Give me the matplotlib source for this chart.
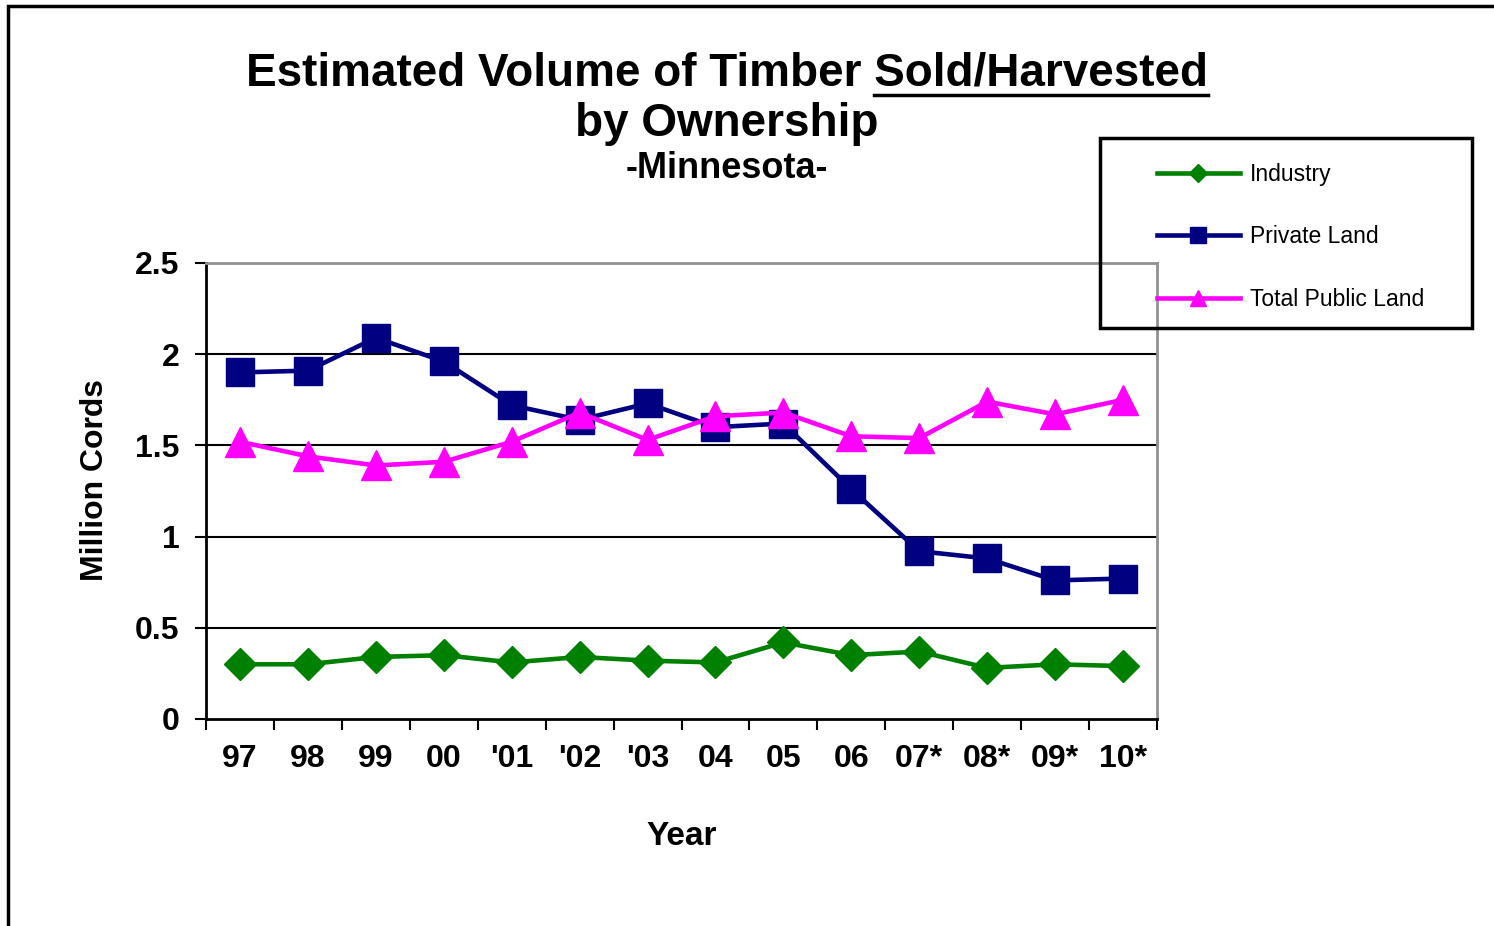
import matplotlib.pyplot as plt
from matplotlib.patches import Rectangle
from matplotlib.lines import Line2D

years = ["97", "98", "99", "00", "'01", "'02", "'03", "04", "05", "06", "07*", "08*", "09*", "10*"]
industry = [0.30, 0.30, 0.34, 0.35, 0.31, 0.34, 0.32, 0.31, 0.42, 0.35, 0.37, 0.28, 0.30, 0.29]
private_land = [1.90, 1.91, 2.09, 1.96, 1.72, 1.64, 1.73, 1.60, 1.62, 1.26, 0.92, 0.88, 0.76, 0.77]
public_land = [1.52, 1.44, 1.39, 1.41, 1.52, 1.68, 1.53, 1.66, 1.68, 1.55, 1.54, 1.74, 1.67, 1.75]
yticks = [0, 0.5, 1, 1.5, 2, 2.5]
ytick_labels = ["0", "0.5", "1", "1.5", "2", "2.5"]

plt.rcParams['font.family'] = ['Liberation Sans', 'DejaVu Sans']

W, H = 1494, 926
fig = plt.figure(figsize=(W / 100, H / 100), dpi=100)
ax = fig.add_axes([206 / W, 1 - 719 / H, (1157 - 206) / W, (719 - 263) / H])

x = list(range(len(years)))
ax.plot(x, industry, '-D', color='#008000', lw=3.3, markersize=16, label='Industry', zorder=3)
ax.plot(x, private_land, '-s', color='#000080', lw=3.3, markersize=20, label='Private Land', zorder=3)
ax.plot(x, public_land, '-^', color='#FF00FF', lw=3.3, markersize=21, label='Total Public Land', zorder=3)

for v in yticks[1:-1]:
    ax.axhline(v, color='black', lw=1.5, zorder=1)

ax.set_xlim(-0.5, len(years) - 0.5)
ax.set_ylim(0, 2.5)
ax.set_yticks(yticks)
ax.set_yticklabels(ytick_labels, fontsize=23, fontweight='bold')
ax.tick_params(axis='y', direction='out', length=8, width=1.5, pad=11)

ax.set_xticks([i - 0.5 for i in range(len(years) + 1)])
ax.set_xticklabels([])
ax.set_xticks(x, minor=True)
ax.set_xticklabels(years, minor=True, fontsize=23, fontweight='bold')
ax.tick_params(axis='x', which='major', direction='out', length=8, width=1.5)
ax.tick_params(axis='x', which='minor', length=0, pad=18)

for s in ['left', 'bottom']:
    ax.spines[s].set_color('black')
    ax.spines[s].set_linewidth(2)
for s in ['top', 'right']:
    ax.spines[s].set_color('#909090')
    ax.spines[s].set_linewidth(2)

ax.set_ylabel("Million Cords", fontsize=23, fontweight='bold', labelpad=18)
ax.yaxis.label.set_y(0.525)
ax.set_xlabel("Year", fontsize=24, fontweight='bold', labelpad=34)

# title with underlined part
t1 = fig.text(727 / W, 1 - 73 / H, "Estimated Volume of Timber Sold/Harvested",
              fontsize=33, fontweight='bold', ha='center', va='center')
fig.text(727 / W, 1 - 124 / H, "by Ownership", fontsize=33, fontweight='bold',
         ha='center', va='center')
fig.text(727 / W, 1 - 168 / H, "-Minnesota-", fontsize=26, fontweight='bold',
         ha='center', va='center')

renderer = fig.canvas.get_renderer()
tmp = fig.text(0, 0, "Sold/Harvested", fontsize=33, fontweight='bold')
w_part = tmp.get_window_extent(renderer).width
tmp.remove()
bb = t1.get_window_extent(renderer)
uy = 1 - 95 / H
fig.add_artist(Line2D([(bb.x1 - w_part) / W, bb.x1 / W], [uy, uy], color='black', lw=2.5))

# legend box
fig.add_artist(Rectangle((1100 / W, 1 - 328 / H), 372 / W, 190 / H, transform=fig.transFigure,
                         fill=False, edgecolor='black', lw=2.5))
fig.legend(loc='upper left', bbox_to_anchor=(1157 / W, 1 - 163 / H), frameon=False,
           fontsize=16.5, markerscale=0.55, handlelength=3.6, handletextpad=0.45,
           labelspacing=1.72, borderaxespad=0, borderpad=0)

# outer border
fig.add_artist(Rectangle((8 / W, -0.05), 1.1, 1 - 6 / H + 0.05, transform=fig.transFigure,
                         fill=False, edgecolor='black', lw=2.5))

fig.savefig("out.png", dpi=100)
